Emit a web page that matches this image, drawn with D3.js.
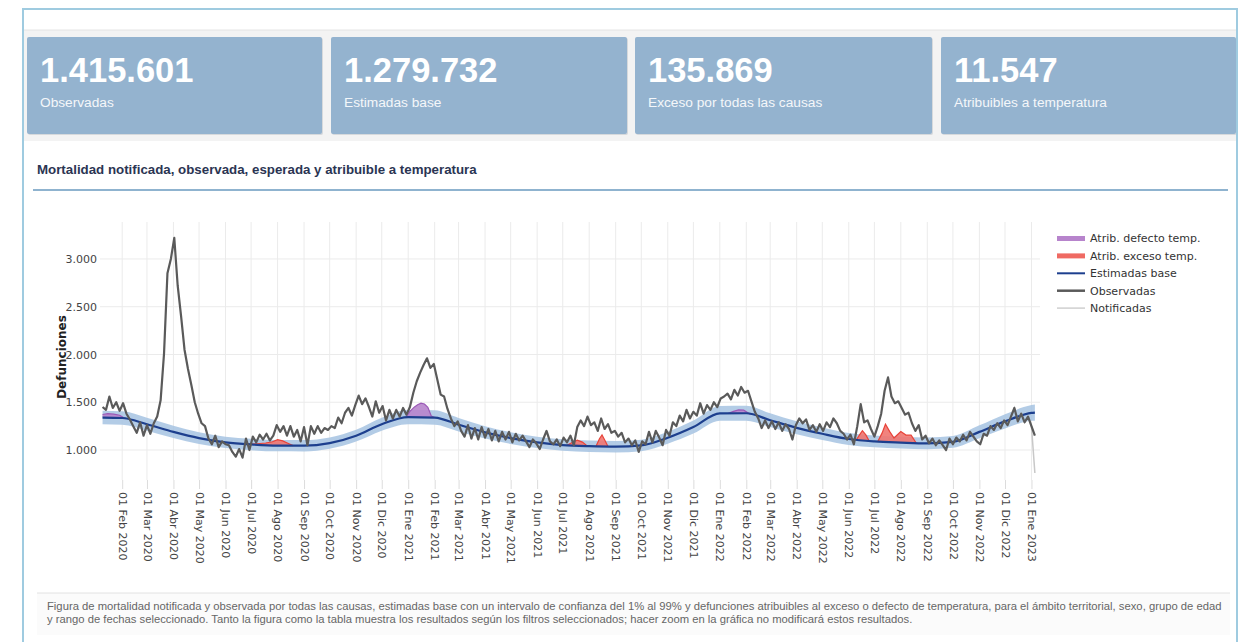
<!DOCTYPE html>
<meta charset="utf-8" />
<script src="https://d3js.org/d3.v7.min.js"></script>
<style>
  body { margin: 0; background: #fff; }
</style>
<div id="chart"></div>
<script>
  // ---- data ----
  const cardValues = ["1.415.601", "1.279.732", "135.869", "11.547"];
  const cardLabels = ["Observadas", "Estimadas base", "Exceso por todas las causas", "Atribuibles a temperatura"];

  // observed deaths, one value every 4 days from 2020-01-09
  const obsStart = "2020-01-09";
  const obsStep = 4;
  const observed = [
    1450,1420,1560,1440,1500,1410,1490,1380,1320,1250,
    1180,1290,1150,1260,1170,1280,1350,1520,2010,2850,
    3000,3220,2720,2400,2050,1850,1680,1500,1380,1280,
    1250,1120,1060,1150,1030,1090,1060,1050,980,930,
    1010,920,1120,1000,1140,1080,1160,1110,1170,1100,
    1150,1260,1190,1250,1150,1250,1140,1210,1090,1240,
    1050,1250,1170,1250,1180,1230,1210,1250,1230,1340,
    1280,1390,1440,1360,1470,1570,1480,1540,1450,1350,
    1510,1390,1460,1310,1420,1330,1420,1350,1440,1370,
    1450,1600,1720,1810,1890,1960,1860,1900,1740,1580,
    1560,1430,1330,1250,1300,1200,1140,1260,1120,1230,
    1110,1240,1130,1220,1100,1200,1090,1190,1110,1190,
    1080,1170,1100,1150,1090,1030,1110,1070,1010,1110,
    1200,1090,1060,1110,1040,1130,1080,1150,1050,1240,
    1310,1250,1350,1260,1290,1200,1330,1220,1270,1180,
    1200,1140,1180,1080,1120,1050,1100,980,1090,1060,
    1190,1080,1200,1130,1050,1210,1150,1290,1250,1360,
    1300,1420,1330,1400,1360,1490,1380,1470,1420,1500,
    1450,1540,1560,1590,1530,1630,1570,1660,1600,1620,
    1510,1400,1330,1230,1310,1230,1300,1220,1290,1200,
    1270,1220,1110,1260,1330,1280,1320,1210,1260,1190,
    1270,1200,1290,1240,1330,1280,1200,1170,1110,1160,
    1060,1250,1480,1290,1310,1220,1140,1250,1380,1620,
    1760,1560,1490,1510,1440,1370,1390,1280,1200,1260,
    1110,1150,1070,1120,1050,1100,1050,1000,1120,1060,
    1130,1090,1160,1100,1190,1140,1090,1060,1170,1150,
    1250,1210,1280,1230,1310,1260,1350,1440,1300,1380,
    1290,1350,1250,1150
  ];

  // notified deaths (only visible at the end, where they drop)
  const notStart = "2022-11-26";
  const notified = [1230,1310,1260,1350,1440,1300,1380,1290,1350,1250,760];

  // baseline estimate and its 1%-99% interval
  const baseDates = ["2020-01-09","2020-02-01","2020-03-01","2020-04-01","2020-05-01","2020-06-01","2020-07-01","2020-08-01","2020-09-01","2020-10-01","2020-11-01","2020-12-01",
    "2021-01-01","2021-02-01","2021-03-01","2021-04-01","2021-05-01","2021-06-01","2021-07-01","2021-08-01","2021-09-01","2021-10-01","2021-11-01","2021-12-01",
    "2022-01-01","2022-02-01","2022-03-01","2022-04-01","2022-05-01","2022-06-01","2022-07-01","2022-08-01","2022-09-01","2022-10-01","2022-11-01","2022-12-01",
    "2023-01-01","2023-01-05"];
  const baseline = [1340,1335,1270,1190,1125,1080,1058,1046,1045,1072,1150,1270,1345,1340,1265,1185,1125,1080,1052,1040,1035,1048,1128,1240,1384,1385,1312,1232,1170,1115,1090,1078,1070,1085,1190,1300,1388,1392];
  const baseLow = [1270,1265,1202,1125,1063,1020,998,986,985,1012,1088,1202,1270,1265,1195,1120,1063,1020,992,980,975,988,1066,1172,1306,1307,1240,1164,1105,1053,1028,1016,1008,1023,1122,1225,1306,1307];
  const baseHigh = [1410,1405,1338,1255,1187,1140,1118,1106,1105,1132,1212,1338,1420,1415,1335,1250,1187,1140,1112,1100,1095,1108,1190,1308,1462,1463,1384,1300,1235,1177,1152,1140,1132,1147,1258,1375,1470,1477];

  // deaths attributable to temperature, above the baseline
  const defectoEpisodes = [
    [["2020-01-09",32],["2020-01-15",42],["2020-01-22",38],["2020-01-29",28],["2020-02-05",0]],
    [["2020-12-29",0],["2021-01-03",60],["2021-01-08",105],["2021-01-12",130],["2021-01-16",148],["2021-01-20",140],["2021-01-24",105],["2021-01-28",15],["2021-02-01",0]],
    [["2022-01-11",0],["2022-01-17",20],["2022-01-23",35],["2022-01-29",32],["2022-02-06",0]]
  ];
  const excesoEpisodes = [
    [["2020-06-28",0],["2020-07-08",10],["2020-07-18",22],["2020-07-26",38],["2020-08-01",62],["2020-08-07",50],["2020-08-13",25],["2020-08-19",0]],
    [["2021-07-06",0],["2021-07-12",30],["2021-07-18",58],["2021-07-24",40],["2021-07-30",0]],
    [["2021-08-09",0],["2021-08-13",80],["2021-08-16",120],["2021-08-19",70],["2021-08-23",0]],
    [["2022-06-10",0],["2022-06-14",60],["2022-06-17",100],["2022-06-21",60],["2022-06-25",0]],
    [["2022-07-05",0],["2022-07-10",90],["2022-07-14",185],["2022-07-19",110],["2022-07-24",45],["2022-08-01",115],["2022-08-07",80],["2022-08-13",80],["2022-08-19",0]]
  ];

  const yTicks = [1000, 1500, 2000, 2500, 3000];
  const legendLabels = ["Atrib. defecto temp.", "Atrib. exceso temp.", "Estimadas base", "Observadas", "Notificadas"];
  const title = "Mortalidad notificada, observada, esperada y atribuible a temperatura";
  const note = [
    "Figura de mortalidad notificada y observada por todas las causas, estimadas base con un intervalo de confianza del 1% al 99% y defunciones atribuibles al exceso o defecto de temperatura, para el ámbito territorial, sexo, grupo de edad",
    "y rango de fechas seleccionado. Tanto la figura como la tabla muestra los resultados según los filtros seleccionados; hacer zoom en la gráfica no modificará estos resultados."
  ];

  // ---- helpers ----
  const parse = d3.timeParse("%Y-%m-%d");
  const es = d3.timeFormatLocale({
    dateTime: "%A, %e de %B de %Y, %X", date: "%d/%m/%Y", time: "%H:%M:%S", periods: ["AM", "PM"],
    days: ["domingo","lunes","martes","miércoles","jueves","viernes","sábado"],
    shortDays: ["dom","lun","mar","mié","jue","vie","sáb"],
    months: ["enero","febrero","marzo","abril","mayo","junio","julio","agosto","septiembre","octubre","noviembre","diciembre"],
    shortMonths: ["Ene","Feb","Mar","Abr","May","Jun","Jul","Ago","Sep","Oct","Nov","Dic"]
  });
  const fmtDate = es.format("%d %b %Y");
  const fmtNum = d3.formatLocale({ decimal: ",", thousands: ".", grouping: [3], currency: ["", "€"] }).format(",");

  const t0 = parse(obsStart);
  const obsData = observed.map((v, i) => ({ date: d3.timeDay.offset(t0, i * obsStep), v }));
  const n0 = parse(notStart);
  const notData = notified.map((v, i) => ({ date: d3.timeDay.offset(n0, i * obsStep), v }));
  const baseData = baseDates.map((d, i) => ({ date: parse(d), v: baseline[i], lo: baseLow[i], hi: baseHigh[i] }));
  const baseAt = d3.scaleTime().domain(baseData.map(d => d.date)).range(baseline).clamp(true);

  // ---- layout ----
  const W = 1239, H = 642;
  const svg = d3.select("#chart").append("svg").attr("width", W).attr("height", H)
    .style("font-family", "'Liberation Sans', Arial, sans-serif");

  svg.append("rect").attr("width", W).attr("height", H).attr("fill", "#fff");

  // header strip behind cards
  svg.append("rect").attr("x", 24).attr("y", 30).attr("width", 1212).attr("height", 111).attr("fill", "#f3f3f3");

  const cardX = [27, 331, 635, 941], cardW = [295, 296, 297, 295];
  const cards = svg.append("g").selectAll("g").data(cardValues).join("g")
    .attr("transform", (d, i) => `translate(${cardX[i]},37)`);
  cards.append("rect").attr("x", 1).attr("y", 1).attr("width", (d, i) => cardW[i]).attr("height", 97).attr("fill", "#d6d9dc").attr("rx", 2);
  cards.append("rect").attr("width", (d, i) => cardW[i]).attr("height", 97).attr("fill", "#94b3cf").attr("rx", 2);
  cards.append("text").attr("x", 13).attr("y", 45).attr("fill", "#fff")
    .style("font-size", "34.5px").style("font-weight", "bold").text(d => d);
  cards.append("text").attr("x", 13).attr("y", 70).attr("fill", "#f4f7fa")
    .style("font-size", "13.7px").text((d, i) => cardLabels[i]);

  // frame
  const frame = svg.append("g").attr("stroke", "#9fcbe0").attr("stroke-width", 2).attr("fill", "none");
  frame.append("path").attr("d", `M23,${H} V9 H1237 V${H}`);
  svg.append("line").attr("x1", 24).attr("x2", 1236).attr("y1", 30).attr("y2", 30).attr("stroke", "#e4e4e4");

  // title
  svg.append("text").attr("x", 37).attr("y", 174).attr("fill", "#2b3553")
    .style("font-size", "13.3px").style("font-weight", "bold").text(title);
  svg.append("line").attr("x1", 33).attr("x2", 1228).attr("y1", 190).attr("y2", 190)
    .attr("stroke", "#8fb3cf").attr("stroke-width", 2);

  // ---- chart ----
  const x = d3.scaleTime().domain([parse("2020-01-06"), parse("2023-01-11")]).range([100, 1040]);
  const y = d3.scaleLinear().domain([686, 3387]).range([480, 222]);
  const plotTop = 222, plotBottom = 480;
  const months = d3.timeMonth.range(parse("2020-02-01"), parse("2023-01-02"));

  const grid = svg.append("g").attr("stroke", "#ebebeb").attr("stroke-width", 1);
  grid.selectAll(".v").data(months).join("line").attr("class", "v")
    .attr("x1", d => x(d)).attr("x2", d => x(d)).attr("y1", plotTop).attr("y2", plotBottom);
  grid.selectAll(".h").data(yTicks).join("line").attr("class", "h")
    .attr("x1", 100).attr("x2", 1040).attr("y1", d => y(d)).attr("y2", d => y(d));

  // x axis
  const xAxis = svg.append("g").attr("transform", `translate(0,${plotBottom})`)
    .call(d3.axisBottom(x).tickValues(months).tickFormat(fmtDate).tickSize(9).tickPadding(3));
  xAxis.select(".domain").remove();
  xAxis.selectAll(".tick line").attr("stroke", "#dcdcdc");
  xAxis.selectAll(".tick text")
    .attr("fill", "#444").style("font-family", "'DejaVu Sans', Verdana, sans-serif").style("font-size", "11px")
    .attr("text-anchor", "start").attr("transform", "rotate(90)")
    .attr("x", 12).attr("y", 0).attr("dy", "0.35em");

  // y axis
  const yAxis = svg.append("g").attr("transform", "translate(100,0)")
    .call(d3.axisLeft(y).tickValues(yTicks).tickFormat(fmtNum).tickSize(0).tickPadding(3));
  yAxis.select(".domain").remove();
  yAxis.selectAll(".tick text").attr("fill", "#444")
    .style("font-family", "'DejaVu Sans', Verdana, sans-serif").style("font-size", "11px");

  svg.append("text").attr("transform", "translate(66,357) rotate(-90)").attr("text-anchor", "middle")
    .attr("fill", "#222").style("font-family", "'DejaVu Sans', Verdana, sans-serif")
    .style("font-size", "12px").style("font-weight", "bold").text("Defunciones");

  // confidence band
  svg.append("path").datum(baseData)
    .attr("d", d3.area().x(d => x(d.date)).y0(d => y(d.lo)).y1(d => y(d.hi)).curve(d3.curveMonotoneX))
    .attr("fill", "#a6c3e2").attr("fill-opacity", 0.85);

  // attributable areas
  const epArea = d3.area().x(d => x(d.date)).y0(d => y(baseAt(d.date))).y1(d => y(baseAt(d.date) + d.v));
  const epLine = d3.line().x(d => x(d.date)).y(d => y(baseAt(d.date) + d.v));
  const toPts = ep => ep.map(([d, v]) => ({ date: parse(d), v }));
  [[defectoEpisodes, "#b784cc", "#9b59b6"], [excesoEpisodes, "#ef7670", "#e8443a"]].forEach(([eps, fill, edge]) => {
    eps.forEach(ep => {
      const pts = toPts(ep);
      svg.append("path").datum(pts).attr("d", epArea).attr("fill", fill).attr("fill-opacity", 0.9);
      svg.append("path").datum(pts).attr("d", epLine).attr("fill", "none").attr("stroke", edge).attr("stroke-width", 1.2);
    });
  });

  // baseline
  svg.append("path").datum(baseData)
    .attr("d", d3.line().x(d => x(d.date)).y(d => y(d.v)).curve(d3.curveMonotoneX))
    .attr("fill", "none").attr("stroke", "#1d3f8e").attr("stroke-width", 2.2);

  // notified and observed
  const valLine = d3.line().x(d => x(d.date)).y(d => y(d.v));
  svg.append("path").datum(notData).attr("d", valLine)
    .attr("fill", "none").attr("stroke", "#c8c8c8").attr("stroke-width", 1.5);
  svg.append("path").datum(obsData).attr("d", valLine)
    .attr("fill", "none").attr("stroke", "#5a5a5a").attr("stroke-width", 2.2).attr("stroke-linejoin", "round");

  // legend
  const legStyle = [
    { c: "#b784cc", w: 5 }, { c: "#ef6a63", w: 5 }, { c: "#1d3f8e", w: 2 }, { c: "#5a5a5a", w: 2.5 }, { c: "#cfcfcf", w: 1.5 }
  ];
  const leg = svg.append("g").selectAll("g").data(legendLabels).join("g")
    .attr("transform", (d, i) => `translate(1057,${238.5 + i * 17.4})`);
  leg.append("line").attr("x1", 0).attr("x2", 28).attr("y1", 0).attr("y2", 0)
    .attr("stroke", (d, i) => legStyle[i].c).attr("stroke-width", (d, i) => legStyle[i].w);
  leg.append("text").attr("x", 33).attr("dy", "0.35em").attr("fill", "#333")
    .style("font-family", "'DejaVu Sans', Verdana, sans-serif").style("font-size", "11px").text(d => d);

  // footnote
  svg.append("rect").attr("x", 37).attr("y", 593).attr("width", 1193).attr("height", 42).attr("fill", "#fbfbfb");
  svg.append("line").attr("x1", 37).attr("x2", 1230).attr("y1", 593).attr("y2", 593).attr("stroke", "#e2e2e2");
  svg.append("g").selectAll("text").data(note).join("text")
    .attr("x", 47).attr("y", (d, i) => 610 + i * 12.5).attr("fill", "#666")
    .style("font-size", "11.25px").text(d => d);
</script>
